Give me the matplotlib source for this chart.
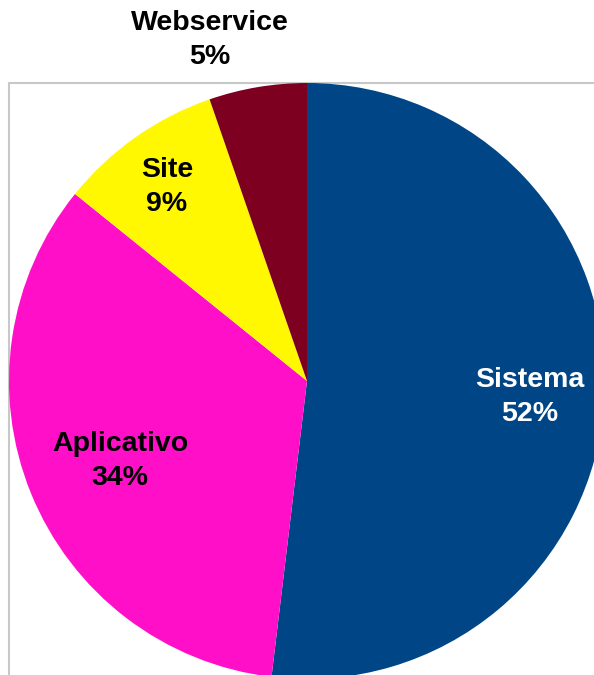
import matplotlib
matplotlib.use("Agg")
import matplotlib.pyplot as plt

# data
categories = ["Sistema", "Aplicativo", "Site", "Webservice"]
shares = [51.9, 33.9, 8.9, 5.3]
colors = ["#004586", "#FF10C8", "#FFF800", "#7E0021"]

plt.rcParams['font.family'] = ['Liberation Sans', 'DejaVu Sans']

fig = plt.figure(figsize=(5.94, 6.75), dpi=100)
ax = fig.add_axes([0, 0, 1, 1])

# chart frame (gray border, cut off at right/bottom)
ax.plot([9, 9, 700], [-10, 592, 592], color='#C8C8C8', lw=1.5, zorder=1)

cx, cy, r = 307, 294, 298
wedges, _ = ax.pie(shares, colors=colors, startangle=90, counterclock=False,
                   center=(cx, cy), radius=r, frame=True,
                   wedgeprops=dict(linewidth=0))
ax.set_xlim(0, 594)
ax.set_ylim(0, 675)
ax.set_aspect('equal')
ax.axis('off')
for w in wedges:
    w.set_zorder(2)

label_pos = [(530, 278), (120, 214), (167, 488), (210, 635)]
label_col = ['white', 'black', 'black', 'black']
for name, val, (x, y), c in zip(categories, shares, label_pos, label_col):
    ax.text(x, y, f"{name}\n{round(val)}%", ha='center', va='center', color=c,
            fontsize=20.5, fontweight='bold', linespacing=1.42, zorder=3)

fig.savefig("out.png", dpi=100)
